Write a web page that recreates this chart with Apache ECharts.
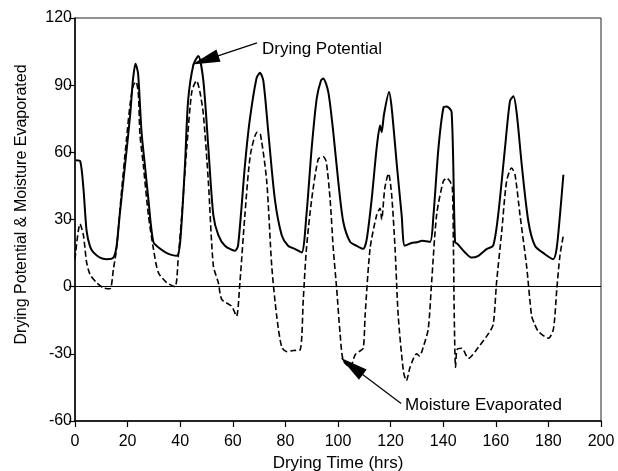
<!DOCTYPE html>
<html>
<head>
<meta charset="utf-8">
<script src="https://cdn.jsdelivr.net/npm/echarts@6/dist/echarts.min.js"></script>
<style>
  html, body { margin: 0; padding: 0; background: #fff; }
  #chart { width: 618px; height: 471px; }
</style>
</head>
<body>
<div id="chart"></div>
<script>
  // drying potential (solid)
  const potentialTime = [0.3, 2, 3.2, 4.4, 5.7, 7, 9.5, 12, 14.6, 15.8, 17, 19, 21, 22, 23, 24, 25.3, 26.6, 27.9, 29.8,
    32.3, 34.9, 38.7, 40, 41.8, 43, 45, 46.9, 48.8, 50.7, 52.6, 54.5, 57, 60.8, 62, 64.6, 66.4, 69, 70.3, 71.6,
    73.5, 76, 78.6, 81, 83.7, 86.2, 88, 90, 91.9, 93.5, 94.4, 96.3, 98.2, 100.1, 102, 104.6, 107, 109.6, 110.9, 112.8,
    114.7, 116, 116.6, 117.5, 119.4, 120.4, 122.4, 124.2, 125.4, 128, 129.9, 132, 135, 136.3, 138.2, 140.1, 141.3, 143.2, 144.5, 145.5,
    148.3, 150.8, 153.4, 156.5, 159, 160.9, 163.5, 165.4, 166.7, 168, 169.9, 172.4, 174.9, 178.7, 181.8, 183.1, 184.4, 185.7];
  const potentialValue = [56.5, 56, 44, 25, 18, 15.3, 13, 12.3, 13, 18, 32, 54, 77, 92, 99.6, 95, 69, 54, 39, 20,
    17, 15, 13.8, 20, 54, 83, 99, 103, 92, 62, 32, 23, 18.3, 16, 18.3, 54, 74, 93, 95.5, 92,
    69, 39, 23, 18.3, 16.8, 15.3, 32, 62, 84, 92, 93, 87, 69, 47, 29, 20, 18.3, 16.9, 21, 39,
    62, 72, 69, 77, 87, 80, 54, 32, 18.3, 19.5, 19.8, 20.5, 20, 32, 62, 80, 80.5, 78, 20, 19,
    15.3, 13, 13.8, 16.8, 18.3, 32, 62, 83, 85, 77, 54, 29, 18.3, 14.5, 12.3, 16.8, 32, 50];

  // moisture evaporated (dashed)
  const moistureTime = [0, 1.9, 3.2, 4.4, 5.7, 8.2, 10.8, 13.3, 14.6, 15.8, 17.5, 19.5, 21, 22.2, 23.2, 24.1, 24.7, 26, 27.9, 29.8,
    31.7, 34.9, 38, 39.3, 40.6, 42.5, 44.4, 46.2, 47.5, 48.8, 50.7, 52.6, 54.5, 55.8, 59.5, 61.4, 62.7, 64.6, 66.7, 69.3,
    70.5, 72.9, 74.8, 76.7, 78.6, 80.5, 83, 85.6, 86.8, 88, 90, 92.5, 94.4, 95.5, 97, 98.2, 99.5, 100.8, 102, 104.6,
    106.5, 108, 109.6, 110.3, 112.2, 114.7, 116, 116.6, 117.8, 119.2, 120.4, 121.7, 122.9, 124.9, 126, 127.4, 129.9, 131, 132.4, 134.3,
    135.6, 137.5, 140, 141.3, 142.6, 143.5, 143.9, 144.2, 144.7, 145.3, 147, 149.6, 153.4, 157.2, 159, 160.3, 162.2, 164.1, 166, 167.3,
    169.2, 171.7, 173.6, 174.5, 176.2, 180, 181.9, 183.2, 184.4, 185.7];
  const moistureValue = [12.3, 28, 23, 11, 5.5, 1.8, -0.5, -0.9, 7.8, 17, 40, 65, 82, 90, 91.5, 86, 68, 54, 32, 17,
    6.3, 1.8, 0, 13.8, 32, 62, 87, 92, 87, 77, 47, 9.3, 1.8, -5.7, -8.7, -13.2, 1.8, 32, 59, 69,
    68, 47, 9.3, -13.2, -27, -29, -28.5, -28.2, -5.7, 17, 39, 57, 58, 56, 39, 17, -1, -21, -33, -36,
    -30.5, -29, -27.5, -13, 17, 32, 35, 30, 44, 50.5, 41, 17, -13, -38, -42, -36, -30, -31, -27, -19,
    2, 32, 47, 48.5, 47, 44, 17, -13, -36, -28, -27.5, -32, -27, -21, -17, 2, 24, 47, 53, 50,
    32, 9.3, -13, -16, -20, -23, -19, -1, 14, 23];

  const xTicks = { min: 0, max: 200, interval: 20 };
  const yTicks = { min: -60, max: 120, interval: 30 };

  const font = 'Liberation Sans, Arial, sans-serif';
  const zip = (xs, ys) => xs.map((x, i) => [x, ys[i]]);

  const chart = echarts.init(document.getElementById('chart'));
  const axisCommon = {
    type: 'value',
    axisLine: { show: true, onZero: false, lineStyle: { color: '#000', width: 1.5 } },
    axisTick: { show: true, inside: false, length: 6, lineStyle: { color: '#000', width: 1.2 } },
    axisLabel: { color: '#000', fontSize: 16, fontFamily: font },
    splitLine: { show: false },
    nameLocation: 'middle'
  };

  chart.setOption({
    animation: false,
    backgroundColor: '#fff',
    grid: {
      left: 75, right: 17, top: 18, bottom: 50,
      outerBoundsMode: 'none',
      show: true, borderColor: '#222', borderWidth: 1
    },
    xAxis: Object.assign({}, axisCommon, xTicks, {
      name: 'Drying Time (hrs)',
      nameGap: 32,
      nameTextStyle: { color: '#000', fontSize: 17, fontFamily: font },
      axisLabel: Object.assign({}, axisCommon.axisLabel, { margin: 13 })
    }),
    yAxis: Object.assign({}, axisCommon, yTicks, {
      name: 'Drying Potential & Moisture Evaporated',
      nameGap: 45,
      nameTextStyle: { color: '#000', fontSize: 16, fontFamily: font, padding: [0, 0, 0, 30] },
      axisLabel: Object.assign({}, axisCommon.axisLabel, { margin: 3 })
    }),
    series: [{
      name: 'Drying Potential',
      type: 'line',
      data: zip(potentialTime, potentialValue),
      showSymbol: false,
      smooth: 0.25,
      lineStyle: { color: '#000', width: 2 },
      markLine: {
        silent: true,
        symbol: ['none', 'none'],
        label: { show: false },
        lineStyle: { color: '#000', width: 1, type: 'solid' },
        data: [{ yAxis: 0 }]
      }
    }, {
      name: 'Moisture Evaporated',
      type: 'line',
      data: zip(moistureTime, moistureValue),
      showSymbol: false,
      smooth: 0.25,
      lineStyle: { color: '#000', width: 1.6, type: [6, 3] }
    }, {
      // annotation arrows and their texts
      type: 'line',
      data: [],
      markLine: {
        silent: true,
        symbol: ['none', 'path://M0,0 M24,24 M12,0 L17.5,24 L6.5,24 Z'],
        symbolSize: 28,
        lineStyle: { color: '#000', width: 1.2, type: 'solid' },
        label: { show: false },
        data: [
          [{ coord: [69.2, 108.9] }, { coord: [49.5, 101.2] }],
          [{ coord: [124, -52.2] }, { coord: [105.2, -35.5] }]
        ]
      },
      markPoint: {
        silent: true,
        symbol: 'circle',
        symbolSize: 0,
        label: {
          show: true, position: 'right', distance: 0,
          color: '#000', fontSize: 17, fontFamily: font,
          formatter: p => p.name
        },
        data: [
          { name: 'Drying Potential', coord: [71.1, 106] },
          { name: 'Moisture Evaporated', coord: [125.5, -53] }
        ]
      }
    }]
  });
</script>
</body>
</html>
